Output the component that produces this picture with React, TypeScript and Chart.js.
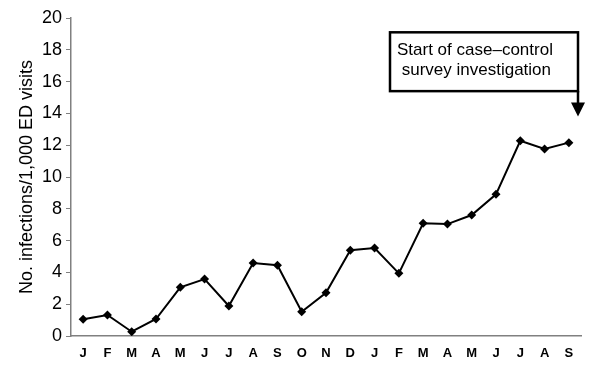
import React, { useEffect, useRef } from "react";
import { Chart, registerables } from "chart.js";

Chart.register(...registerables);

const months = ["J", "F", "M", "A", "M", "J", "J", "A", "S", "O", "N", "D", "J", "F", "M", "A", "M", "J", "J", "A", "S"];
const rates = [1.05, 1.32, 0.27, 1.07, 3.06, 3.58, 1.89, 4.59, 4.45, 1.53, 2.72, 5.39, 5.53, 3.94, 7.09, 7.04, 7.61, 8.91, 12.28, 11.76, 12.16];
const yTicks = [0, 2, 4, 6, 8, 10, 12, 14, 16, 18, 20];
const annotationLines = ["Start of case\u2013control", " survey investigation"];
const yTitle = "No. infections/1,000 ED visits";

const FONT = "'Liberation Sans', Arial, sans-serif";

const annotationPlugin = {
  id: "calloutBox",
  afterDraw(chart: any) {
    const { ctx, chartArea } = chart;
    const yScale = chart.scales.y;
    const right = chartArea.right - 3;
    const left = right - 188;
    const top = yScale.getPixelForValue(19.1);
    const bottom = yScale.getPixelForValue(15.4);
    const tipY = yScale.getPixelForValue(13.8);
    ctx.save();
    ctx.fillStyle = "#ffffff";
    ctx.fillRect(left, top, right - left, bottom - top);
    ctx.strokeStyle = "#000000";
    ctx.lineWidth = 2.5;
    ctx.strokeRect(left, top, right - left, bottom - top);
    ctx.fillStyle = "#000000";
    ctx.font = "17px " + FONT;
    ctx.textBaseline = "middle";
    ctx.textAlign = "left";
    ctx.fillText(annotationLines[0], left + 7, top + 18);
    ctx.fillText(annotationLines[1], left + 7, top + 38);
    ctx.beginPath();
    ctx.moveTo(right, bottom);
    ctx.lineTo(right, tipY - 13);
    ctx.stroke();
    ctx.beginPath();
    ctx.moveTo(right - 7, tipY - 14);
    ctx.lineTo(right + 7, tipY - 14);
    ctx.lineTo(right, tipY);
    ctx.closePath();
    ctx.fill();
    ctx.restore();
  },
};

export default function App() {
  const ref = useRef<HTMLCanvasElement>(null);
  useEffect(() => {
    document.body.style.margin = "0";
    const chart = new Chart(ref.current!, {
      type: "line",
      data: {
        labels: months,
        datasets: [
          {
            data: rates,
            borderColor: "#000000",
            backgroundColor: "#000000",
            borderWidth: 2,
            pointStyle: "rectRot",
            pointRadius: 4.5,
            pointBorderWidth: 0,
            tension: 0,
          },
        ],
      },
      options: {
        responsive: false,
        animation: false,
        maintainAspectRatio: false,
        layout: { padding: { left: 16, right: 19, top: 18, bottom: 0 } },
        plugins: { legend: { display: false }, tooltip: { enabled: false } },
        scales: {
          x: {
            offset: true,
            grid: { display: false, drawTicks: false },
            border: { display: true, color: "#808080", width: 1.5 },
            ticks: {
              color: "#000000",
              padding: 10,
              autoSkip: false,
              maxRotation: 0,
              font: { family: FONT, size: 13, weight: "bold" },
            },
            afterFit(scale: any) {
              scale.height = 30;
            },
          },
          y: {
            min: 0,
            max: 20,
            afterBuildTicks(scale: any) {
              scale.ticks = yTicks.map((v) => ({ value: v }));
            },
            grid: { drawOnChartArea: false, drawTicks: true, tickLength: 5, color: "#808080" },
            border: { display: true, color: "#808080", width: 1.5 },
            ticks: {
              color: "#000000",
              padding: 4,
              font: { family: FONT, size: 18 },
            },
            title: {
              display: true,
              text: yTitle,
              color: "#000000",
              padding: 0,
              font: { family: FONT, size: 18 },
            },
            afterFit(scale: any) {
              scale.width = 55;
            },
          },
        },
      },
      plugins: [annotationPlugin],
    });
    return () => chart.destroy();
  }, []);
  return (
    <div style={{ width: 600, height: 366 }}>
      <canvas ref={ref} width={600} height={366} />
    </div>
  );
}
